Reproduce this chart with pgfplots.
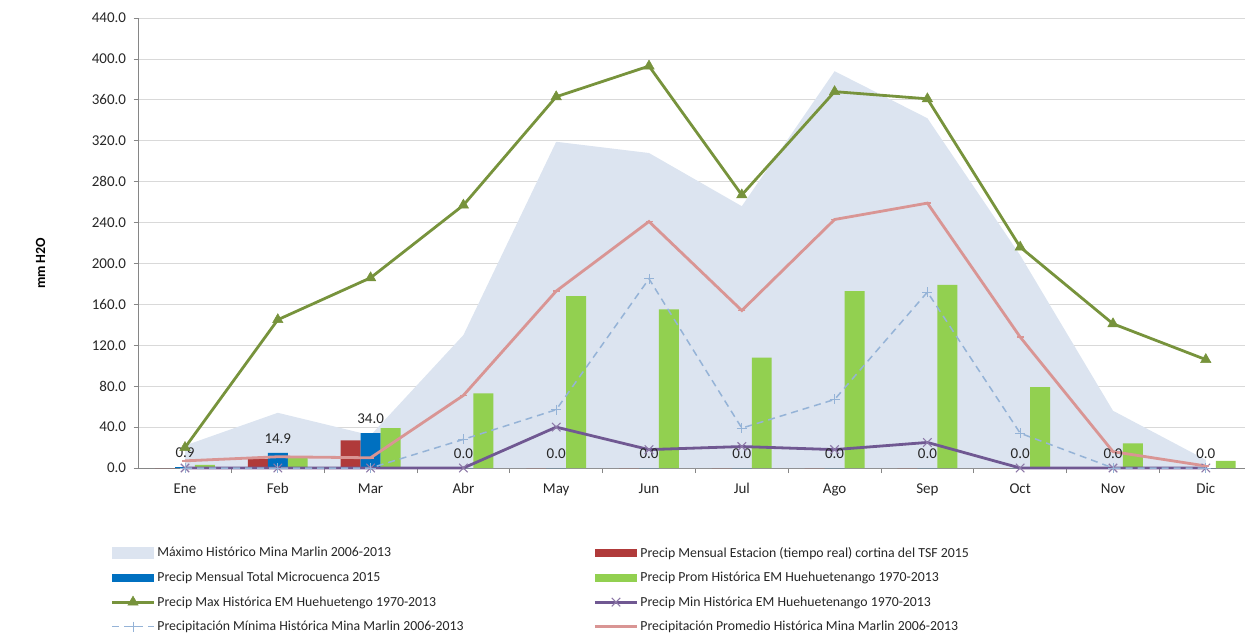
\documentclass[border=0pt]{standalone}
\usepackage{pgfplots}
\pgfplotsset{compat=1.18}
\usepackage{fontspec}
\setmainfont{Carlito}
\definecolor{areablue}{RGB}{220,228,240}
\definecolor{barred}{RGB}{176,58,58}
\definecolor{barblue}{RGB}{0,112,192}
\definecolor{bargreen}{RGB}{146,208,80}
\definecolor{lgreen}{RGB}{119,147,60}
\definecolor{lpurple}{RGB}{112,88,146}
\definecolor{lpink}{RGB}{217,149,148}
\definecolor{ldash}{RGB}{149,179,215}
\definecolor{gridgray}{RGB}{217,217,217}
\definecolor{axisgray}{RGB}{134,134,134}
\pgfplotsset{
  lineleg/.style={legend image code/.code={\draw[##1, mark repeat=2, mark phase=2] plot coordinates {(0pt,0pt) (21pt,0pt) (42pt,0pt)};}},
  boxleg/.style={legend image code/.code={\fill[#1] (0pt,-4pt) rectangle (42pt,4pt);}},
}
\begin{document}
\begin{tikzpicture}
\path[use as bounding box] (0pt,0pt) rectangle (1245pt,-633pt);
\begin{axis}[
  at={(138.6pt,-468pt)}, anchor=south west,
  width=1113.6pt, height=450pt, scale only axis,
  xmin=-0.5, xmax=11.5,
  ymin=0, ymax=440,
  clip=false,
  axis lines*=left,
  axis line style={axisgray, line width=0.8pt},
  every outer x axis line/.append style={-}, every outer y axis line/.append style={-},
  xtick={0,...,11},
  xticklabels={Ene,Feb,Mar,Abr,May,Jun,Jul,Ago,Sep,Oct,Nov,Dic},
  major x tick style={draw=none},
  minor xtick={0.5,1.5,...,10.5},
  minor x tick style={axisgray, line width=0.8pt},
  minor tick length=5pt,
  ytick={0,40,...,440},
  major y tick style={axisgray, line width=0.8pt},
  major tick length=5pt,
  tick align=outside,
  ymajorgrids,
  grid style={gridgray, line width=0.8pt},
  ticklabel style={font=\fontsize{15}{17}\selectfont, text=black!85},
  xticklabel style={yshift=-7pt},
  yticklabel style={xshift=-4pt, /pgf/number format/.cd, fixed, fixed zerofill, precision=1, assume math mode=true},
  ylabel={\textbf{mm H2O}},
  ylabel style={font=\fontsize{14}{16}\selectfont, at={(axis description cs:-0.088,0.455)}, anchor=center, rotate=0},
  legend columns=2,
  legend cell align=left,
  legend style={at={(axis description cs:-0.028,-0.166)}, anchor=north west, draw=none, fill=none,
    font=\fontsize{13.8}{15}\selectfont, text=black!85, row sep=9.5pt,
    /tikz/every even column/.append style={column sep=128pt}},
]
% Maximo Historico Mina Marlin 2006-2013 (area)
\addplot[fill=areablue, draw=none, area legend,
  legend image code/.code={\fill[areablue] (0pt,-6pt) rectangle (42pt,6pt);}]
  coordinates {(0,22) (1,54) (2,32) (3,130) (4,319) (5,308) (6,256) (7,388) (8,342) (9,208) (10,56) (11,8)} \closedcycle;
\addlegendentry{Máximo Histórico Mina Marlin 2006-2013}
% Precip Mensual Estacion
\addplot[ybar, bar width=0.215, bar shift=-0.215, fill=barred, draw=none, boxleg=barred]
  coordinates {(0,0) (1,9) (2,27) (3,0) (4,0) (5,0) (6,0) (7,0) (8,0) (9,0) (10,0) (11,0)};
\addlegendentry{Precip Mensual Estacion (tiempo real) cortina del TSF 2015}
% Precip Mensual Total Microcuenca
\addplot[ybar, bar width=0.215, bar shift=0, fill=barblue, draw=none, boxleg=barblue,
  nodes near coords, point meta=y,
  nodes near coords style={font=\fontsize{15}{17}\selectfont, text=black!85, anchor=south, yshift=6pt,
    /pgf/number format/.cd, fixed, fixed zerofill, precision=1, assume math mode=true}]
  coordinates {(0,0.9) (1,14.9) (2,34.0) (3,0) (4,0) (5,0) (6,0) (7,0) (8,0) (9,0) (10,0) (11,0)};
\addlegendentry{Precip Mensual Total Microcuenca 2015}
% Precip Prom Historica EM Huehuetenango
\addplot[ybar, bar width=0.215, bar shift=0.215, fill=bargreen, draw=none, boxleg=bargreen]
  coordinates {(0,3) (1,11) (2,39) (3,73) (4,168) (5,155) (6,108) (7,173) (8,179) (9,79) (10,24) (11,7)};
\addlegendentry{Precip Prom Histórica EM Huehuetenango 1970-2013}
% Precip Max Historica EM Huehuetenango
\addplot[color=lgreen, line width=2.8pt, mark=triangle*, mark size=6pt, mark options={solid, line width=0.5pt}, lineleg]
  coordinates {(0,20) (1,145) (2,186) (3,257) (4,363) (5,393) (6,267) (7,368) (8,361) (9,216) (10,141) (11,106)};
\addlegendentry{Precip Max Histórica EM Huehuetengo 1970-2013}
% Precip Min Historica EM Huehuetenango
\addplot[color=lpurple, line width=2.8pt, mark=x, mark size=6pt, mark options={solid, line width=1.1pt, color=lpurple!80}, lineleg]
  coordinates {(0,0) (1,0) (2,0) (3,0) (4,40) (5,18) (6,21) (7,18) (8,25) (9,0) (10,0) (11,0)};
\addlegendentry{Precip Min Histórica EM Huehuetenango 1970-2013}
% Precipitacion Minima Historica Mina Marlin
\addplot[color=ldash, line width=1.5pt, dash pattern=on 7pt off 5pt, mark=+, mark size=5pt, mark options={solid, line width=1pt}, lineleg]
  coordinates {(0,0) (1,0) (2,0) (3,28) (4,57) (5,185) (6,39) (7,67) (8,172) (9,34) (10,0) (11,0)};
\addlegendentry{Precipitación Mínima Histórica Mina Marlin 2006-2013}
% Precipitacion Promedio Historica Mina Marlin
\addplot[color=lpink, line width=2.8pt, mark=-, mark size=3.5pt, mark options={solid, line width=1.5pt}, lineleg]
  coordinates {(0,7) (1,11) (2,10) (3,71) (4,173) (5,241) (6,154) (7,243) (8,259) (9,128) (10,16) (11,2)};
\addlegendentry{Precipitación Promedio Histórica Mina Marlin 2006-2013}
\end{axis}
\end{tikzpicture}
\end{document}
